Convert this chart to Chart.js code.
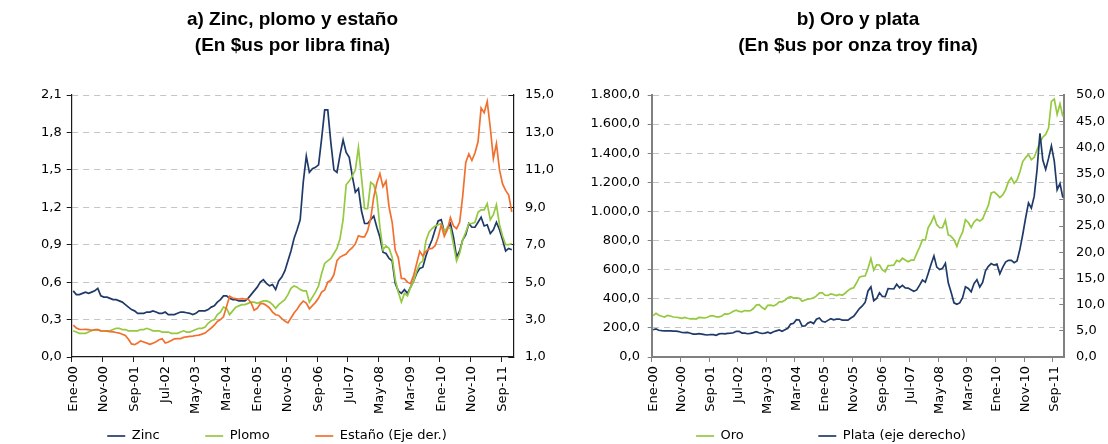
<!DOCTYPE html>
<html>
<head>
<meta charset="utf-8">
<script src="https://cdn.jsdelivr.net/npm/chart.js@4.4.1/dist/chart.umd.min.js"></script>
<style>
html, body { margin: 0; padding: 0; background: #fff; overflow: hidden; }
#wrap { position: relative; width: 1108px; height: 444px; }
.box { position: absolute; top: 0; width: 554px; height: 444px; }
</style>
</head>
<body>
<div id="wrap">
  <div class="box" style="left:0"><canvas id="chartA"></canvas></div>
  <div class="box" style="left:554px"><canvas id="chartB"></canvas></div>
</div>
<script>
// meses ene-2000 .. dic-2011
const meses = ['Ene','Feb','Mar','Abr','May','Jun','Jul','Ago','Sep','Oct','Nov','Dic'];
const labels = [];
for (let a = 0; a < 12; a++) for (let m = 0; m < 12; m++) labels.push(meses[m] + '-' + String(a).padStart(2, '0'));

// $us por libra fina
const zinc = [
  0.53,0.50,0.50,0.51,0.52,0.51,0.52,0.53,0.55,0.49,0.48,0.48,
  0.47,0.46,0.46,0.45,0.44,0.42,0.40,0.38,0.37,0.35,0.35,0.35,
  0.36,0.36,0.37,0.36,0.35,0.35,0.36,0.34,0.34,0.34,0.35,0.36,
  0.36,0.355,0.35,0.34,0.35,0.37,0.37,0.37,0.38,0.40,0.41,0.44,
  0.46,0.49,0.49,0.47,0.46,0.46,0.45,0.45,0.45,0.47,0.50,0.53,
  0.56,0.60,0.62,0.59,0.57,0.58,0.54,0.61,0.64,0.69,0.77,0.85,
  0.95,1.02,1.10,1.40,1.61,1.48,1.51,1.52,1.54,1.75,1.98,1.98,
  1.72,1.50,1.48,1.62,1.74,1.64,1.60,1.45,1.32,1.35,1.17,1.07,
  1.07,1.10,1.13,1.04,0.96,0.84,0.83,0.79,0.77,0.59,0.53,0.51,
  0.54,0.51,0.56,0.61,0.67,0.71,0.72,0.81,0.88,0.94,1.02,1.09,
  1.10,1.00,1.03,1.07,0.96,0.80,0.85,0.94,0.98,1.07,1.04,1.04,
  1.08,1.12,1.05,1.06,0.99,1.02,1.08,1.02,0.94,0.85,0.87,0.86
];
const plomo = [
  0.21,0.20,0.19,0.19,0.19,0.20,0.21,0.22,0.22,0.21,0.21,0.21,
  0.21,0.22,0.23,0.23,0.22,0.22,0.21,0.21,0.21,0.21,0.22,0.22,
  0.23,0.22,0.21,0.21,0.21,0.20,0.20,0.20,0.19,0.19,0.19,0.20,
  0.21,0.20,0.20,0.21,0.22,0.23,0.23,0.24,0.27,0.29,0.30,0.34,
  0.36,0.40,0.39,0.34,0.37,0.40,0.41,0.42,0.42,0.43,0.44,0.44,
  0.43,0.44,0.45,0.45,0.44,0.42,0.39,0.42,0.44,0.46,0.50,0.55,
  0.57,0.56,0.54,0.53,0.53,0.44,0.48,0.52,0.57,0.67,0.75,0.77,
  0.79,0.83,0.87,0.95,1.10,1.38,1.41,1.45,1.50,1.68,1.44,1.19,
  1.19,1.40,1.38,1.29,1.04,0.86,0.89,0.87,0.80,0.62,0.52,0.44,
  0.51,0.49,0.56,0.61,0.69,0.75,0.77,0.93,1.00,1.03,1.05,1.06,
  1.07,1.00,1.04,1.03,0.90,0.77,0.83,0.94,1.00,1.07,1.07,1.08,
  1.16,1.18,1.18,1.23,1.10,1.14,1.22,1.06,0.97,0.90,0.90,0.91
];
const estano = [
  2.70,2.55,2.48,2.47,2.48,2.46,2.43,2.45,2.46,2.40,2.39,2.38,
  2.36,2.34,2.31,2.28,2.22,2.15,1.95,1.70,1.66,1.75,1.86,1.80,
  1.74,1.68,1.74,1.82,1.92,1.97,1.75,1.80,1.88,1.97,1.98,1.98,
  2.05,2.08,2.10,2.12,2.15,2.17,2.22,2.28,2.42,2.55,2.70,2.90,
  3.00,3.15,3.70,4.25,4.15,4.12,4.10,4.12,4.10,4.10,3.90,3.50,
  3.60,3.85,3.85,3.75,3.62,3.40,3.26,3.22,3.05,2.92,2.82,3.08,
  3.35,3.55,3.80,3.99,3.88,3.58,3.75,3.92,4.15,4.47,4.58,5.00,
  5.10,5.40,6.15,6.34,6.42,6.50,6.70,6.84,7.05,7.48,7.42,7.42,
  7.75,8.40,9.55,10.30,10.80,10.10,10.40,9.00,8.20,6.70,6.30,5.20,
  5.19,5.00,4.92,5.36,6.00,6.65,6.40,6.65,6.78,6.80,6.95,7.40,
  8.05,7.45,7.80,8.45,8.00,7.86,8.20,9.60,11.40,11.85,11.50,11.90,
  12.50,14.30,14.05,14.65,13.25,11.60,12.40,11.00,10.25,9.90,9.65,8.75
];

// $us por onza troy fina
const oro = [
  284,300,287,280,275,286,282,275,273,270,266,272,
  266,262,263,261,272,270,268,273,283,283,276,276,
  282,296,294,302,314,321,313,310,319,317,319,333,
  357,359,340,328,355,356,351,360,379,379,389,407,
  414,405,406,404,383,392,398,400,406,420,439,442,
  424,423,434,429,422,430,424,438,456,470,476,510,
  549,555,557,610,676,596,633,632,598,586,628,629,
  631,664,655,679,667,655,665,665,712,754,806,803,
  889,922,968,909,888,889,939,839,829,806,760,816,
  858,943,924,890,928,946,934,949,996,1043,1127,1134,
  1117,1095,1113,1148,1205,1232,1193,1215,1271,1343,1370,1391,
  1356,1372,1424,1474,1510,1529,1573,1756,1772,1666,1739,1652
];
const plata = [
  5.20,5.34,5.10,5.03,5.00,5.00,5.00,4.93,4.93,4.86,4.68,4.64,
  4.70,4.54,4.37,4.37,4.45,4.37,4.27,4.20,4.29,4.28,4.15,4.40,
  4.48,4.40,4.51,4.55,4.63,4.90,4.89,4.57,4.56,4.44,4.52,4.66,
  4.82,4.63,4.49,4.56,4.74,4.53,4.81,4.98,5.15,4.90,5.18,5.47,
  6.28,6.43,7.11,7.06,5.90,5.92,6.47,6.68,6.38,7.20,7.45,6.80,
  6.65,6.99,7.30,7.08,7.24,7.24,7.04,7.03,7.02,7.44,7.77,8.50,
  9.25,9.74,10.43,12.60,13.38,10.75,11.16,12.26,11.56,11.53,13.04,13.02,
  12.98,13.88,13.22,13.67,13.18,13.15,12.85,12.56,12.80,13.71,14.68,14.27,
  15.93,17.69,19.30,17.15,16.68,16.91,17.88,14.15,12.35,10.34,10.05,10.32,
  11.30,13.41,13.07,12.45,14.01,14.76,13.36,14.24,16.46,17.30,17.83,17.53,
  17.72,15.87,17.12,18.11,18.45,18.44,17.99,18.32,20.55,23.38,26.53,29.40,
  28.40,30.70,35.80,42.70,37.60,35.80,37.90,40.30,37.40,31.90,33.10,30.40
];

const ticksZinc = [0, 0.3, 0.6, 0.9, 1.2, 1.5, 1.8, 2.1];
const ticksEstano = [1, 3, 5, 7, 9, 11, 13, 15];
const ticksOro = [0, 200, 400, 600, 800, 1000, 1200, 1400, 1600, 1800];
const ticksPlata = [0, 5, 10, 15, 20, 25, 30, 35, 40, 45, 50];

const NAVY = '#1f3a68';
const GREEN = '#94c940';
const ORANGE = '#f2702f';
const GRID = '#c4c4c4';
const FONT = { family: '"DejaVu Sans", sans-serif', size: 13 };
const TITLE_FONT = { family: '"Liberation Sans", Arial, sans-serif', size: 19, weight: 'bold', lineHeight: '26px' };

function fmt(v) {
  let [a, b] = v.toFixed(1).split('.');
  a = a.replace(/\B(?=(\d{3})+(?!\d))/g, '.');
  return a + ',' + b;
}

function ejeX(col, w) {
  return {
    type: 'category',
    offset: true,
    grid: {
      display: true, drawOnChartArea: false, drawTicks: true, tickLength: 5, offset: true,
      tickColor: c => (c.index % 10 === 0 ? col : 'rgba(0,0,0,0)')
    },
    border: { display: true, color: col, width: w },
    ticks: {
      autoSkip: false, minRotation: 90, maxRotation: 90, padding: 4, font: FONT, color: '#000',
      callback: function (v, i) { return i % 10 === 0 ? this.getLabelForValue(v) : ''; }
    },
    afterFit: s => { s.height = 60; }
  };
}

function ejeY(pos, min, max, tks, col, w, width, tl, pad, grid) {
  return {
    type: 'linear', position: pos, min: min, max: max,
    afterBuildTicks: s => { s.ticks = tks.map(v => ({ value: v })); },
    afterFit: s => { s.width = width; },
    grid: {
      drawOnChartArea: grid, tickLength: tl, tickColor: col,
      color: c => (c.tick && c.tick.value === min ? 'rgba(0,0,0,0)' : GRID)
    },
    border: { color: col, width: w, dash: [6, 5] },
    ticks: { padding: pad, font: FONT, color: '#000', callback: v => fmt(v) }
  };
}

// leyenda en orden de series, con separacion extra entre elementos
function leyenda(espacios) {
  return chart => {
    const items = Chart.defaults.plugins.legend.labels.generateLabels(chart);
    items.sort((a, b) => a.datasetIndex - b.datasetIndex);
    items.forEach((it, i) => { if (i < items.length - 1) it.text += ' '.repeat(espacios); });
    return items;
  };
}

function opciones(titulo, espacios, scales) {
  return {
    animation: false, responsive: true, maintainAspectRatio: false,
    layout: { padding: 0 },
    elements: { point: { radius: 0 }, line: { tension: 0 } },
    plugins: {
      title: { display: true, text: titulo, fullSize: false, color: '#000', font: TITLE_FONT, padding: { top: 7, bottom: 36 } },
      legend: {
        position: 'bottom', maxHeight: 27,
        labels: {
          usePointStyle: true, pointStyle: 'line', pointStyleWidth: 18, padding: 12.5,
          font: FONT, color: '#000', generateLabels: leyenda(espacios)
        }
      },
      tooltip: { enabled: false }
    },
    scales: scales
  };
}

new Chart(document.getElementById('chartA'), {
  type: 'line',
  data: {
    labels: labels,
    datasets: [
      { label: 'Zinc', data: zinc, borderColor: NAVY, backgroundColor: NAVY, borderWidth: 1.7, yAxisID: 'y', order: 2 },
      { label: 'Plomo', data: plomo, borderColor: GREEN, backgroundColor: GREEN, borderWidth: 1.7, yAxisID: 'y', order: 1 },
      { label: 'Estaño (Eje der.)', data: estano, borderColor: ORANGE, backgroundColor: ORANGE, borderWidth: 1.7, yAxisID: 'y1', order: 0 }
    ]
  },
  options: opciones(['a) Zinc, plomo y estaño', '(En $us por libra fina)'], 8, {
    x: ejeX('#1a1a1a', 1.2),
    y: ejeY('left', 0, 2.1, ticksZinc, '#1a1a1a', 1.2, 71.7, 5, 5, true),
    y1: ejeY('right', 1, 15, ticksEstano, '#1a1a1a', 1.2, 40.7, -5, 16.7, false)
  })
});

new Chart(document.getElementById('chartB'), {
  type: 'line',
  data: {
    labels: labels,
    datasets: [
      { label: 'Oro', data: oro, borderColor: GREEN, backgroundColor: GREEN, borderWidth: 1.7, yAxisID: 'y', order: 1 },
      { label: 'Plata (eje derecho)', data: plata, borderColor: NAVY, backgroundColor: NAVY, borderWidth: 1.7, yAxisID: 'y1', order: 0 }
    ]
  },
  options: opciones(['b) Oro y plata', '(En $us por onza troy fina)'], 15, {
    x: ejeX('#808080', 2),
    y: ejeY('left', 0, 1800, ticksOro, '#808080', 2, 97.7, 4, 7.7, true),
    y1: ejeY('right', 0, 50, ticksPlata, '#808080', 2, 43.7, -5, 16.7, false)
  })
});
</script>
</body>
</html>
